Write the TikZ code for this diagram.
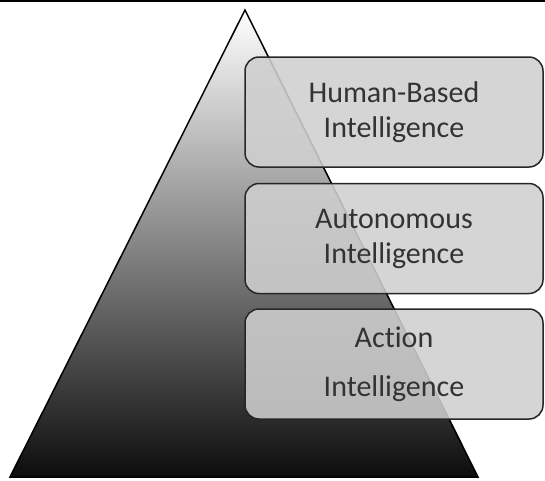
\documentclass[tikz,border=0pt]{standalone}
\usepackage{fontspec}
\setmainfont{Carlito}[Ligatures=NoCommon]
\usetikzlibrary{positioning}

\begin{document}
\begin{tikzpicture}[x=1pt,y=-1pt]
	\def\largeur{545}
	\def\hauteur{480}
\useasboundingbox (0,0) rectangle (\largeur,\hauteur); % Fixes the frame of the picture

\tikzset{niveau/.style={draw=black!85, line width=1.5pt, rounded corners=14pt,
	fill=black!19, fill opacity=0.88, text opacity=1, text=black!80,
	minimum width=298pt, minimum height=110pt, align=center,
	font=\fontsize{30}{35}\selectfont}}

%Trait du haut
\draw[line width=2pt] (0,1) -- (\largeur,1);

%Sommets de la pyramide
\coordinate (S) at (245,10);
\coordinate (G) at (10,477);
\coordinate (D) at (478,477);

%Pyramide
\draw[line width=1.5pt, top color=white, middle color=black!38, bottom color=black!95] (S) -- (D) -- (G) -- cycle;

%Niveaux
\node[niveau] (humain) at (394,112) {Human-Based\\Intelligence};
\node[niveau, below=15pt of humain] (autonome) {Autonomous\\Intelligence};
\node[niveau, below=14pt of autonome] (action) {Action\\[14pt]Intelligence};

\end{tikzpicture}
\end{document}
